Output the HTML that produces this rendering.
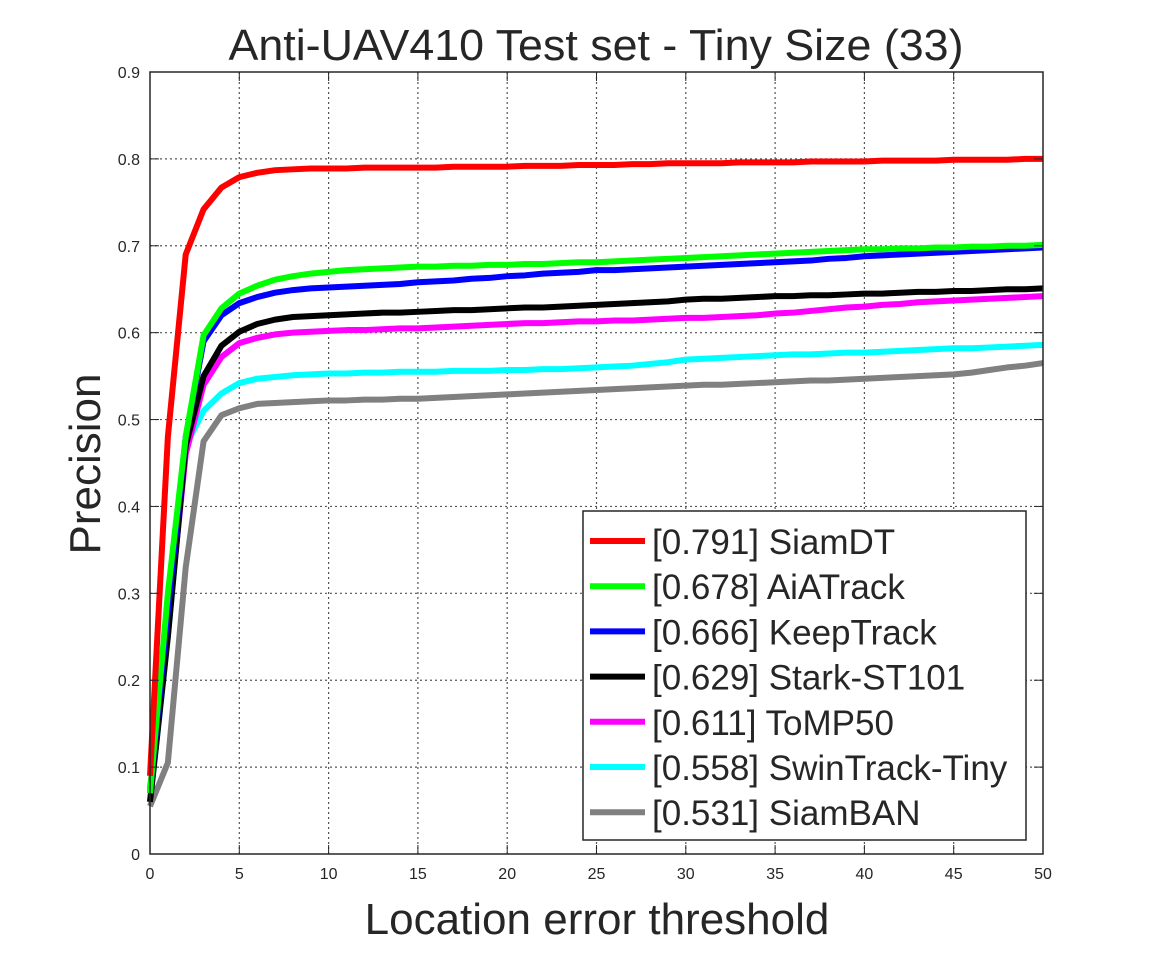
<!DOCTYPE html>
<html><head><meta charset="utf-8"><style>
body{margin:0;background:#fff}
svg text{font-family:"Liberation Sans",Arial,sans-serif;fill:#262626}
</style></head><body>
<svg id="chart" width="1152" height="960">
<text x="596" y="60" font-size="44" text-anchor="middle" textLength="735" lengthAdjust="spacingAndGlyphs">Anti-UAV410 Test set - Tiny Size (33)</text>
<text x="597" y="934" font-size="44" text-anchor="middle">Location error threshold</text>
<text transform="translate(100,464) rotate(-90)" font-size="44" text-anchor="middle">Precision</text>
<g id="grid"></g><g id="series"></g><g id="axes"></g><g id="legend"></g>
</svg>
<script>
const xTicks=[0,5,10,15,20,25,30,35,40,45,50];
const yTicks=[0,0.1,0.2,0.3,0.4,0.5,0.6,0.7,0.8,0.9];
const names=["[0.791] SiamDT","[0.678] AiATrack","[0.666] KeepTrack","[0.629] Stark-ST101","[0.611] ToMP50","[0.558] SwinTrack-Tiny","[0.531] SiamBAN"];
const colors=["#ff0000","#00ff00","#0000ff","#000000","#ff00ff","#00ffff","#808080"];
const red=[0.09,0.48,0.69,0.742,0.767,0.779,0.784,0.787,0.788,0.789,0.789,0.789,0.79,0.79,0.79,0.79,0.79,0.791,0.791,0.791,0.791,0.792,0.792,0.792,0.793,0.793,0.793,0.794,0.794,0.795,0.795,0.795,0.795,0.796,0.796,0.796,0.796,0.797,0.797,0.797,0.797,0.798,0.798,0.798,0.798,0.799,0.799,0.799,0.799,0.8,0.8];
const green=[0.07,0.3,0.48,0.597,0.628,0.645,0.654,0.661,0.665,0.668,0.670,0.672,0.673,0.674,0.675,0.676,0.676,0.677,0.677,0.678,0.678,0.679,0.679,0.680,0.681,0.681,0.682,0.683,0.684,0.685,0.686,0.687,0.688,0.689,0.690,0.691,0.692,0.693,0.694,0.695,0.696,0.696,0.697,0.697,0.698,0.698,0.699,0.699,0.700,0.700,0.701];
const blue=[0.07,0.28,0.48,0.59,0.62,0.634,0.641,0.646,0.649,0.651,0.652,0.653,0.654,0.655,0.656,0.658,0.659,0.660,0.662,0.663,0.665,0.666,0.668,0.669,0.670,0.672,0.672,0.673,0.674,0.675,0.676,0.677,0.678,0.679,0.680,0.681,0.682,0.683,0.685,0.686,0.688,0.689,0.690,0.691,0.692,0.693,0.694,0.695,0.696,0.697,0.698];
const black=[0.06,0.25,0.47,0.55,0.585,0.601,0.61,0.615,0.618,0.619,0.620,0.621,0.622,0.623,0.623,0.624,0.625,0.626,0.626,0.627,0.628,0.629,0.629,0.630,0.631,0.632,0.633,0.634,0.635,0.636,0.638,0.639,0.639,0.640,0.641,0.642,0.642,0.643,0.643,0.644,0.645,0.645,0.646,0.647,0.647,0.648,0.648,0.649,0.650,0.650,0.651];
const magenta=[0.075,0.26,0.46,0.54,0.572,0.588,0.594,0.598,0.600,0.601,0.602,0.603,0.603,0.604,0.605,0.605,0.606,0.607,0.608,0.609,0.610,0.611,0.611,0.612,0.613,0.613,0.614,0.614,0.615,0.616,0.617,0.617,0.618,0.619,0.620,0.622,0.623,0.625,0.627,0.629,0.630,0.632,0.633,0.635,0.636,0.637,0.638,0.639,0.640,0.641,0.642];
const cyan=[0.06,0.25,0.47,0.51,0.53,0.542,0.547,0.549,0.551,0.552,0.553,0.553,0.554,0.554,0.555,0.555,0.555,0.556,0.556,0.556,0.557,0.557,0.558,0.558,0.559,0.560,0.561,0.562,0.564,0.566,0.569,0.570,0.571,0.572,0.573,0.574,0.575,0.575,0.576,0.577,0.577,0.578,0.579,0.580,0.581,0.582,0.582,0.583,0.584,0.585,0.586];
const gray=[0.055,0.105,0.33,0.475,0.505,0.513,0.518,0.519,0.520,0.521,0.522,0.522,0.523,0.523,0.524,0.524,0.525,0.526,0.527,0.528,0.529,0.530,0.531,0.532,0.533,0.534,0.535,0.536,0.537,0.538,0.539,0.540,0.540,0.541,0.542,0.543,0.544,0.545,0.545,0.546,0.547,0.548,0.549,0.550,0.551,0.552,0.554,0.557,0.560,0.562,0.565];
const seriesData=[red,green,blue,black,magenta,cyan,gray];
const seriesKeys=["siamdt","aiatrack","keeptrack","stark-st101","tomp50","swintrack-tiny","siamban"];
const NS="http://www.w3.org/2000/svg";
const X0=150,X1=1043,Y0=854,Y1=72;
const sx=v=>X0+(v-0)/50*(X1-X0);
const sy=v=>Y0-(v-0)/0.9*(Y0-Y1);
function mk(tag,attrs,parent){const e=document.createElementNS(NS,tag);for(const k in attrs)e.setAttribute(k,attrs[k]);parent.appendChild(e);return e;}
const grid=document.getElementById('grid'),axes=document.getElementById('axes'),ser=document.getElementById('series'),leg=document.getElementById('legend');
xTicks.forEach(t=>{
  if(t>0&&t<50){const l=mk('line',{x1:sx(t),x2:sx(t),y1:Y0,y2:Y1,stroke:'#555','stroke-width':1.2,'stroke-dasharray':'2,3'},grid);
  
  }
  const tx=mk('text',{x:sx(t),y:Y0+25,'font-size':16,'text-anchor':'middle'},axes);tx.textContent=t;
  
  
  mk('line',{x1:sx(t),x2:sx(t),y1:Y0,y2:Y0-9,stroke:'#262626','stroke-width':1},axes);
  mk('line',{x1:sx(t),x2:sx(t),y1:Y1,y2:Y1+9,stroke:'#262626','stroke-width':1},axes);
});
yTicks.forEach(t=>{
  if(t>0&&t<0.9){const l=mk('line',{x1:X0,x2:X1,y1:sy(t),y2:sy(t),stroke:'#555','stroke-width':1.2,'stroke-dasharray':'2,3'},grid);
  
  }
  const tx=mk('text',{x:X0-10,y:sy(t)+6,'font-size':16,'text-anchor':'end'},axes);tx.textContent=(t===0?'0':t.toFixed(1));
  
  
  mk('line',{x1:X0,x2:X0+9,y1:sy(t),y2:sy(t),stroke:'#262626','stroke-width':1},axes);
  mk('line',{x1:X1,x2:X1-9,y1:sy(t),y2:sy(t),stroke:'#262626','stroke-width':1},axes);
});
const box=mk('rect',{x:X0,y:Y1,width:X1-X0,height:Y0-Y1,fill:'none',stroke:'#262626','stroke-width':1.5},axes);


seriesData.slice().reverse().forEach((d,ri)=>{
  const i=seriesData.length-1-ri;
  const pts=d.map((v,k)=>sx(k)+','+sy(v)).join(' ');
  const p=mk('polyline',{points:pts,fill:'none',stroke:colors[i],'stroke-width':6,'stroke-linejoin':'round'},ser);
  
  
});
const lb=mk('rect',{x:583,y:511,width:443,height:329,fill:'#fff',stroke:'#262626','stroke-width':1.5},leg);


names.forEach((n,i)=>{
  const y=541+i*45.2;
  mk('line',{x1:590,x2:645,y1:y,y2:y,stroke:colors[i],'stroke-width':6},leg);
  const t=mk('text',{x:652,y:y+13,'font-size':35},leg);t.textContent=n;
  
  
});
</script>
</body></html>
